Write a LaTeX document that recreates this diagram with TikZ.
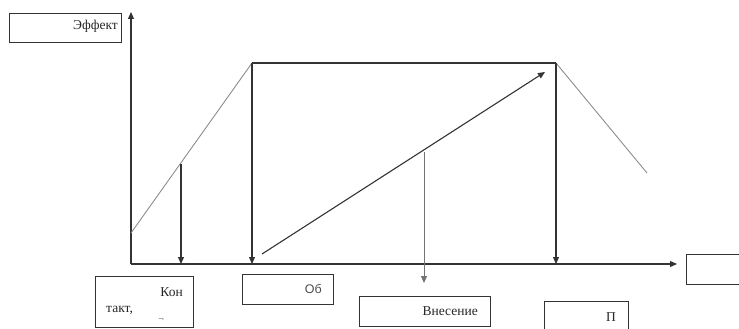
\documentclass[tikz,border=0pt]{standalone}
\usepackage{fontspec}
\setmainfont{Liberation Serif}
\newfontfamily\sansf{Liberation Sans}
\usetikzlibrary{arrows.meta}
\begin{document}
\begin{tikzpicture}[x=1pt,y=-1pt,
  box/.style={draw=black!80, line width=1pt, inner sep=0pt, anchor=north west},
  lbl/.style={font=\fontsize{13.5}{15}\selectfont, inner sep=0pt, text=black!85},
  ax/.style={draw=black!80, line width=1.1pt},
  arr/.style={ax, -{Triangle[length=7pt,width=6pt]}},
  grayline/.style={draw=black!45, line width=0.9pt},
  dark/.style={draw=black!80, line width=1.1pt}]
\useasboundingbox (0,0) rectangle (739,329);
\clip (0,0) rectangle (739,329);
% coordinates
\coordinate (O) at (131,264);
\coordinate (ytop) at (131,12);
\coordinate (xend) at (677,264);
\coordinate (s0) at (131,233);
\coordinate (p1) at (252,63);
\coordinate (p2) at (556,63);
\coordinate (s3) at (647,173);
\coordinate (k1) at (181,164);
\coordinate (k1b) at (181,264);
\coordinate (p1b) at (252,264);
\coordinate (p2b) at (556,264);
\coordinate (d0) at (262,254);
\coordinate (d1) at (545,72);
\coordinate (v0) at (424,152);
\coordinate (v1) at (424,283);
% boxes
\node[box, minimum width=112pt, minimum height=29pt] (effekt) at (9,13) {};
\node[lbl, anchor=east] (effektT) at (118,26) {Эффект};
\node[box, minimum width=98pt, minimum height=51pt] (kon) at (95,276) {};
\node[lbl, anchor=east] (konT1) at (183,292) {Кон};
\node[lbl, anchor=west] (konT2) at (106,310) {такт,};
\node[lbl, anchor=center, font=\fontsize{8}{9}\selectfont] (konT3) at (161,320) {$\neg$};
\node[box, minimum width=91pt, minimum height=30pt] (ob) at (242,274) {};
\node[lbl, anchor=east, font=\sansf\fontsize{12.5}{14}\selectfont, text=black!70] (obT) at (322,289) {Об};
\node[box, minimum width=131pt, minimum height=30pt] (vn) at (359,296) {};
\node[lbl, anchor=east] (vnT) at (478,311) {Внесение};
\node[box, minimum width=84pt, minimum height=45pt] (pp) at (544,301) {};
\node[lbl, anchor=east] (ppT) at (616,317) {П};
\node[box, minimum width=80pt, minimum height=30pt] (rb) at (686,254) {};
% axes
\draw[arr] (O) -- (ytop);
\draw[arr] (O) -- (xend);
% curve
\draw[grayline] (s0) -- (p1);
\draw[dark] (p1) -- (p2);
\draw[grayline] (p2) -- (s3);
% arrows
\draw[arr] (k1) -- (k1b);
\draw[arr] (p1) -- (p1b);
\draw[arr] (p2) -- (p2b);
\draw[arr] (d0) -- (d1);
\draw[draw=black!55, line width=0.9pt, -{Triangle[length=7pt,width=6pt]}] (v0) -- (v1);
\end{tikzpicture}
\end{document}
